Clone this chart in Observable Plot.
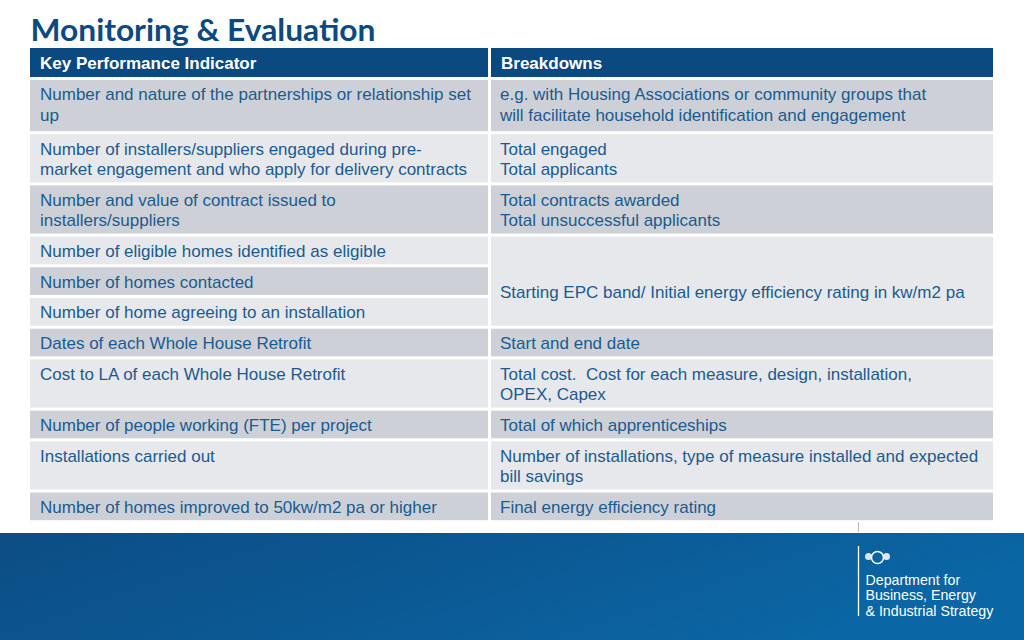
<!DOCTYPE html>
<html>
<head>
<meta charset="utf-8">
<script src="https://cdn.jsdelivr.net/npm/d3@7"></script>
<script src="https://cdn.jsdelivr.net/npm/@observablehq/plot@0.6"></script>
<style>
  html, body { margin: 0; padding: 0; background: #ffffff; }
  #chart svg { display: block; }
  #chart svg .body-text text, #chart svg .logo-text text { font-family: Arial, "Liberation Sans", sans-serif; }
</style>
</head>
<body>
<div id="chart"></div>
<script>
// ---------- content ----------
const title = "Monitoring & Evaluation";
const headers = ["Key Performance Indicator", "Breakdowns"];
const kpis = [
  "Number and nature of the partnerships or relationship set\nup",
  "Number of installers/suppliers engaged during pre-\nmarket engagement and who apply for delivery contracts",
  "Number and value of contract issued to\ninstallers/suppliers",
  "Number of eligible homes identified as eligible",
  "Number of homes contacted",
  "Number of home agreeing to an installation",
  "Dates of each Whole House Retrofit",
  "Cost to LA of each Whole House Retrofit",
  "Number of people working (FTE) per project",
  "Installations carried out",
  "Number of homes improved to 50kw/m2 pa or higher"
];
const breakdowns = [
  "e.g. with Housing Associations or community groups that\nwill facilitate household identification and engagement",
  "Total engaged\nTotal applicants",
  "Total contracts awarded\nTotal unsuccessful applicants",
  "\n\nStarting EPC band/ Initial energy efficiency rating in kw/m2 pa",
  null,
  null,
  "Start and end date",
  "Total cost.  Cost for each measure, design, installation,\nOPEX, Capex",
  "Total of which apprenticeships",
  "Number of installations, type of measure installed and expected\nbill savings",
  "Final energy efficiency rating"
];
const breakdownRowSpan = [1, 1, 1, 3, 0, 0, 1, 1, 1, 1, 1];
const logoLines = ["Department for", "Business, Energy", "& Industrial Strategy"];

// ---------- layout & style ----------
const W = 1024, H = 640;
const colX = [30, 488, 491, 993];      // left col [30,488], right col [491,993]
const headerY = [48, 77];
const firstRowTop = 80, firstRowExtra = 3;
const lineH = 20.5, cellPad = 7.2, gap = 3, textInset = 9.5, firstLineOffset = 14.5;
const bandTop = 533;
const fontPx = 17;
const C = {
  title: "#0b4a80", header: "#0b4a80", dark: "#cdd1d7", light: "#e7e8eb",
  text: "#1a5b90", white: "#ffffff"
};
const bodyFont = "Arial, 'Liberation Sans', sans-serif";

const nLines = s => s == null ? 0 : s.split("\n").length;

// compute rows
const rows = [];
let y = firstRowTop;
kpis.forEach((k, i) => {
  const n = Math.max(nLines(k), breakdownRowSpan[i] === 1 ? nLines(breakdowns[i]) : 1);
  const h = cellPad + n * lineH + (i === 0 ? firstRowExtra : 0);
  rows.push({i, y1: y, y2: y + h, fill: i % 2 === 0 ? C.dark : C.light});
  y += h + gap;
});

const cells = [];
const lines = [];
rows.forEach(r => {
  cells.push({x1: colX[0], x2: colX[1], y1: r.y1, y2: r.y2, fill: r.fill});
  kpis[r.i].split("\n").forEach((t, j) =>
    lines.push({x: colX[0] + textInset, y: r.y1 + firstLineOffset + j * lineH, t}));
  const span = breakdownRowSpan[r.i];
  if (span > 0) {
    const last = rows[r.i + span - 1];
    cells.push({x1: colX[2], x2: colX[3], y1: r.y1, y2: last.y2, fill: r.fill});
    breakdowns[r.i].split("\n").forEach((t, j) => {
      if (t) lines.push({x: colX[2] + textInset - 1, y: r.y1 + firstLineOffset + j * lineH, t});
    });
  }
});

const headerCells = [
  {x1: colX[0], x2: colX[1], y1: headerY[0], y2: headerY[1], t: headers[0]},
  {x1: colX[2], x2: colX[3], y1: headerY[0], y2: headerY[1], t: headers[1]}
];

const gradientDefs = () => {
  const defs = d3.create("svg:defs");
  const g = defs.append("linearGradient").attr("id", "bandGrad")
    .attr("x1", "0").attr("x2", "1").attr("y1", "0").attr("y2", "0.3");
  g.append("stop").attr("offset", "0%").attr("stop-color", "#0c4d84");
  g.append("stop").attr("offset", "55%").attr("stop-color", "#0b5a95");
  g.append("stop").attr("offset", "100%").attr("stop-color", "#0a66a4");
  return defs.node();
};

const logoX = 865, logoRule = 858;
const logoData = logoLines.map((t, j) => ({x: logoX, y: 584 + j * 15.5, t}));

const chart = Plot.plot({
  width: W, height: H,
  margin: 0,
  x: {type: "identity", axis: null},
  y: {type: "identity", axis: null},
  marks: [
    gradientDefs,
    // title
    Plot.text([title], {x: () => 30, y: () => 40, text: d => d, textAnchor: "start", lineAnchor: "bottom",
      fontFamily: "Lato, Open Sans, sans-serif", fontWeight: "bold", fontSize: 31, fill: C.title, className: "title"}),
    // header
    Plot.rect(headerCells, {x1: "x1", x2: "x2", y1: "y1", y2: "y2", fill: C.header}),
    Plot.text(headerCells, {x: d => d.x1 + textInset, y: d => (d.y1 + d.y2) / 2 + 0.5, text: "t", textAnchor: "start",
      lineAnchor: "middle", fontFamily: bodyFont, fontWeight: "bold", fontSize: fontPx, fill: C.white, className: "body-text"}),
    // body
    Plot.rect(cells, {x1: "x1", x2: "x2", y1: "y1", y2: "y2", fill: "fill"}),
    Plot.text(lines, {x: "x", y: "y", text: "t", textAnchor: "start", lineAnchor: "middle",
      fontFamily: bodyFont, fontSize: fontPx, fill: C.text, className: "body-text"}),
    // footer band
    Plot.rect([{x1: 0, x2: W, y1: bandTop, y2: H}], {x1: "x1", x2: "x2", y1: "y1", y2: "y2", fill: "url(#bandGrad)"}),
    Plot.ruleX([logoRule], {y1: bandTop - 11, y2: bandTop - 1, stroke: "#b8bcc2", strokeWidth: 1}),
    Plot.ruleX([logoRule], {y1: 546, y2: 616, stroke: C.white, strokeWidth: 1.3}),
    // small crest hint
    Plot.dot([{x: 877, y: 557}], {x: "x", y: "y", r: 6, stroke: C.white, strokeWidth: 1.5, fill: "none"}),
    Plot.dot([{x: 868, y: 556}, {x: 886, y: 556}], {x: "x", y: "y", r: 3.5, fill: C.white, fillOpacity: 0.85}),
    Plot.text(logoData, {x: "x", y: "y", text: "t", textAnchor: "start", lineAnchor: "bottom",
      fontFamily: bodyFont, fontSize: 14.2, fill: C.white, className: "logo-text"})
  ]
});

document.getElementById("chart").appendChild(chart);
// fit the title width to the reference's condensed face
d3.select(chart).selectAll(".title text").attr("textLength", 345).attr("lengthAdjust", "spacingAndGlyphs");
d3.select(chart).selectAll("text").style("white-space", "pre");
</script>
</body>
</html>
